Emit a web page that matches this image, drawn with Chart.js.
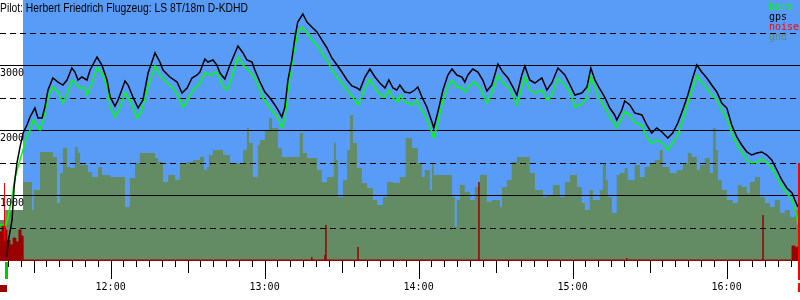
<!DOCTYPE html>
<html><head><meta charset="utf-8">
<script src="https://cdn.jsdelivr.net/npm/chart.js@4/dist/chart.umd.min.js"></script>
<style>html,body{margin:0;padding:0;background:#fff;}canvas{display:block;}</style>
</head><body>
<canvas id="c" width="800" height="300"></canvas>
<script>
// ---- data (time = minutes after 11:00, altitude in m) ----
const pilotTitle = 'Pilot: Herbert Friedrich Flugzeug: LS 8T/18m D-KDHD';
const seriesNames = ['baro', 'gps', 'noise', 'gnd'];
const timeMin = 16.9, timeMax = 328.6;
const hourTicks = [60, 120, 180, 240, 300];
const hourLabels = ['12:00', '13:00', '14:00', '15:00', '16:00'];
const altLabels = [1000, 2000, 3000];
const gridSolid = [1000, 2000, 3000];
const gridDashed = [500, 1500, 2500, 3500];
const coverStart = 25.9;
const takeoffT = 19.4, landingT = 328.2;
const noisePeakT = 18.5, noisePeak = 1185, landingTop = 1492;

const gpsT = [19.6,20.0,21.6,22.4,23.5,24.7,25.9,27.4,28.6,30.5,31.7,33.3,34.4,35.6,37.5,39.5,41.4,43.0,44.9,46.1,47.3,48.8,50.8,52.0,54.7,56.6,58.6,59.8,61.7,62.9,65.6,66.8,68.7,70.7,72.6,74.6,77.3,79.2,80.4,83.1,85.9,87.8,89.8,91.7,93.7,94.8,96.7,97.9,99.9,101.4,102.6,104.5,106.5,109.6,111.6,113.1,115.1,116.2,118.2,120.1,122.1,124.0,125.2,126.7,127.9,129.1,130.6,131.8,132.9,134.9,136.5,138.4,140.4,142.3,144.3,146.2,148.2,150.1,152.1,154.0,156.0,157.1,159.1,161.0,163.0,164.9,166.9,168.4,170.0,171.5,172.7,174.6,176.6,178.5,179.7,181.3,183.2,185.2,185.9,187.5,189.5,191.4,193.0,194.9,196.9,198.0,199.2,201.1,203.1,205.0,206.6,208.5,210.9,212.8,214.8,216.7,218.3,220.2,221.4,223.3,225.3,228.0,230.0,231.9,234.3,237.0,239.0,240.9,243.6,245.6,247.1,248.7,250.6,252.5,254.5,256.4,257.2,259.2,260.3,262.3,264.2,267.0,268.9,270.8,272.8,274.8,277.1,279.0,281.0,282.9,284.9,286.8,288.4,290.3,292.3,294.2,296.2,298.1,300.1,302.0,304.0,305.9,307.9,309.8,311.8,313.7,315.7,317.6,319.6,321.5,323.5,325.5,326.6,327.8];
const gpsAlt = [46,262,615,1123,1492,1738,1954,2077,2200,2338,2185,2185,2354,2615,2800,2738,2692,2769,2954,2892,2769,2815,2769,2923,3123,3000,2769,2508,2369,2462,2754,2692,2508,2338,2462,2877,3185,3046,2923,2815,2738,2569,2646,2800,2846,2892,3092,3046,3077,3000,2877,2785,3000,3292,3185,3077,3046,2923,2738,2585,2492,2385,2308,2200,2354,2769,3077,3415,3662,3785,3662,3585,3508,3385,3262,3108,3000,2892,2769,2677,2646,2615,2815,2938,2815,2723,2646,2769,2646,2615,2692,2585,2569,2615,2662,2508,2354,2123,2031,2277,2615,2846,2938,2846,2815,2738,2846,2938,2892,2769,2600,2692,3015,2892,2800,2662,2538,2846,2985,2769,2723,2800,2615,2723,2954,2846,2692,2538,2569,2662,2954,2769,2631,2508,2338,2231,2154,2308,2446,2385,2262,2231,2077,1954,2031,1969,1877,1954,2108,2308,2538,2800,3000,2892,2800,2692,2585,2415,2338,2077,1892,1769,1662,1615,1646,1662,1615,1538,1385,1231,1108,1031,923,815];

const baroT = [16.9,19.2,20.0,21.6,22.7,23.9,25.5,26.6,27.4,28.6,29.8,31.3,32.5,33.7,35.6,37.5,39.5,41.4,43.4,44.9,46.1,48.1,50.0,50.8,52.7,54.7,56.6,58.6,59.8,61.7,63.7,65.6,67.5,70.3,72.2,74.2,77.3,79.2,82.0,84.3,86.2,88.2,90.1,92.1,94.8,96.7,98.7,101.4,103.4,105.3,107.3,109.6,111.6,113.5,115.4,117.4,119.3,121.3,123.2,125.2,126.7,127.9,129.1,131.0,132.9,134.5,136.5,138.4,140.4,142.3,144.3,146.2,148.2,150.1,152.1,154.0,156.4,158.3,161.0,163.0,164.9,166.9,168.4,170.0,171.9,172.7,174.6,177.4,179.3,180.5,182.4,184.4,185.9,187.5,189.5,191.4,193.0,194.9,196.9,198.0,200.0,201.9,203.9,206.6,208.5,210.9,212.8,215.6,218.3,220.2,221.4,223.3,225.3,228.0,230.0,231.9,234.3,237.0,239.0,240.9,243.6,245.6,247.1,248.7,250.6,252.5,254.5,257.2,259.2,260.3,262.3,264.2,267.0,268.9,270.8,272.8,274.8,277.1,279.0,281.0,282.9,284.9,286.8,288.4,290.3,292.3,294.2,296.2,298.1,300.1,302.0,304.0,305.9,307.9,309.8,311.8,313.7,315.7,317.6,319.6,321.5,323.5,325.5,327.4,327.8];
const baroAlt = [538,538,662,969,1262,1431,1646,1800,1892,2000,2154,2077,2000,2154,2508,2662,2585,2415,2585,2769,2723,2646,2646,2538,2723,2954,2877,2662,2354,2200,2354,2569,2462,2185,2308,2615,2985,2846,2723,2646,2538,2354,2462,2615,2723,2877,2846,2892,2692,2615,2815,3123,3000,2923,2846,2692,2492,2385,2277,2185,2031,2154,2615,3108,3492,3585,3492,3385,3308,3185,3077,2923,2815,2723,2615,2523,2385,2569,2785,2646,2538,2508,2615,2492,2431,2538,2431,2385,2462,2354,2231,2046,1877,2108,2462,2662,2769,2662,2646,2585,2692,2738,2646,2415,2569,2846,2723,2631,2385,2646,2815,2615,2569,2615,2462,2538,2800,2692,2585,2354,2400,2508,2815,2646,2462,2354,2200,2031,2185,2277,2231,2108,2077,1892,1800,1846,1800,1692,1800,1923,2154,2415,2646,2831,2723,2646,2538,2462,2308,2185,1954,1769,1662,1538,1492,1508,1554,1492,1415,1277,1123,1031,923,662,538];

const gndT = [16.9,18.9,25.9,29.4,30.1,32.5,37.5,39.1,40.3,41.4,43.0,44.2,46.1,47.3,48.1,51.2,52.7,55.1,56.6,59.8,65.6,67.5,69.5,71.4,77.3,78.5,80.4,82.4,85.1,87.0,89.8,92.1,94.8,96.4,97.5,98.3,99.9,103.8,106.5,111.6,113.1,113.9,115.4,117.4,118.2,120.1,121.7,122.9,125.2,126.7,133.7,134.9,136.5,140.4,142.3,144.3,147.0,147.8,148.6,150.5,152.1,153.3,154.4,156.0,157.9,159.9,162.2,163.8,166.1,167.7,170.0,172.7,175.0,177.4,179.7,181.3,182.4,184.4,185.2,185.9,193.0,194.1,194.9,196.1,198.0,200.0,201.9,203.9,206.6,208.5,211.7,212.5,214.4,216.3,218.3,223.3,225.3,228.4,230.0,232.3,235.0,237.0,239.0,241.7,243.6,244.8,246.7,247.9,250.6,251.8,253.0,253.7,255.3,257.2,258.4,260.3,261.5,264.2,266.2,268.1,270.1,272.0,274.0,275.1,277.8,280.6,282.9,284.9,286.4,288.4,289.6,291.5,293.5,294.7,295.8,296.6,298.1,300.1,302.4,304.4,305.9,307.9,309.1,311.0,313.0,314.9,316.9,318.8,320.8,322.7,324.7,326.6,328.6];
const gndAlt = [615,769,1200,769,1077,1662,1585,877,1338,1723,1431,1415,1738,1646,1462,1354,1277,1431,1308,1277,815,1262,1492,1646,1569,1508,1200,1308,1231,1492,1508,1538,1585,1385,1431,1615,1692,1615,1492,1692,2031,1800,1277,1769,1846,2000,2185,2031,1723,1585,1954,1646,1569,1385,1200,1277,1800,1538,969,1231,1692,2231,1800,1415,1185,1108,923,846,969,1200,1185,1277,1877,1723,1492,1277,1385,1077,1492,1308,969,508,923,1154,1046,923,1123,1308,892,923,815,1123,1231,1508,1585,1338,1077,969,1000,1154,969,1200,1308,1123,877,769,1077,923,1077,1492,1231,969,723,1308,1338,1415,1231,1462,1277,1431,1492,1538,1692,1431,1338,1385,1492,1646,1585,1385,1462,1569,1338,2031,1692,1231,1077,923,877,1154,1123,1031,1200,1277,969,877,815,923,723,769,662,769,769];

const noiseT = [16.9,17.7,18.8,19.6,20.8,22.0,23.1,24.3,25.1,25.9,138.4,138.4,143.5,143.5,143.9,143.9,156.4,156.4,203.5,203.5,261.1,261.1,314.2,314.2,325.5,326.7,327.4,328.6];
const noiseVal = [431,538,462,308,231,338,277,462,369,0,46,0,77,0,538,0,200,0,1200,0,31,0,692,0,215,185,200,170];

const COL = {sky:'#589cf8', gnd:'#648c64', noise:'#9b0000', noiseHi:'#ff0000', baro:'#00ff00', gps:'#000000', start:'#00cc00'};
const zip = (xs, ys) => xs.map((x, i) => ({x: x, y: ys[i]}));

const overlay = {
  id: 'overlay',
  beforeDraw(chart) {
    const {ctx, chartArea: a, scales: {x}} = chart;
    ctx.save();
    ctx.fillStyle = '#fff';
    ctx.fillRect(0, 0, chart.width, chart.height);
    const x0 = Math.round(x.getPixelForValue(coverStart));
    ctx.fillStyle = COL.sky;
    ctx.fillRect(x0, a.top, a.right - x0, a.bottom - a.top);
    ctx.restore();
  },
  beforeDatasetDraw(chart, args) {
    if (args.index !== 1) return;
    const {ctx, scales: {y}} = chart;
    ctx.save();
    ctx.strokeStyle = '#000';
    ctx.lineWidth = 1;
    gridSolid.forEach(v => {
      const py = Math.round(y.getPixelForValue(v)) + 0.5;
      ctx.beginPath(); ctx.moveTo(0, py); ctx.lineTo(chart.width, py); ctx.stroke();
    });
    ctx.setLineDash([6, 4]);
    gridDashed.forEach(v => {
      const py = Math.round(y.getPixelForValue(v)) + 0.5;
      ctx.beginPath(); ctx.moveTo(0, py); ctx.lineTo(chart.width, py); ctx.stroke();
    });
    ctx.restore();
  },
  afterDraw(chart) {
    const {ctx, chartArea: a, scales: {x, y}} = chart;
    ctx.save();
    // markers
    ctx.fillStyle = COL.noiseHi;
    const pk = Math.round(x.getPixelForValue(noisePeakT));
    const pkTop = Math.round(y.getPixelForValue(noisePeak));
    ctx.fillRect(pk, pkTop, 1, Math.round(y.getPixelForValue(300)) - pkTop);
    const ld = Math.round(x.getPixelForValue(landingT));
    const ldTop = Math.round(y.getPixelForValue(landingTop));
    ctx.fillRect(ld - 1, ldTop, 2, a.bottom + 20 - ldTop);
    ctx.fillRect(ld - 1, a.bottom + 23, 2, 9);
    ctx.fillStyle = COL.start;
    const to = Math.round(x.getPixelForValue(takeoffT));
    ctx.fillRect(to - 1, a.bottom + 2, 3, 17);
    ctx.fillStyle = COL.noise;
    ctx.fillRect(0, a.bottom + 25, 7, 7);
    // tick marks
    ctx.strokeStyle = '#000';
    ctx.lineWidth = 1;
    for (let t = Math.ceil(timeMin / 5) * 5; t <= timeMax; t += 5) {
      const px = Math.round(x.getPixelForValue(t)) + 0.5;
      const len = t % 60 === 0 ? 18 : (t % 30 === 0 ? 12 : 6);
      ctx.beginPath(); ctx.moveTo(px, a.bottom + 1); ctx.lineTo(px, a.bottom + 1 + len); ctx.stroke();
    }
    // altitude labels
    ctx.fillStyle = '#000';
    ctx.font = '10px "DejaVu Sans Mono", monospace';
    ctx.textBaseline = 'alphabetic';
    ctx.textAlign = 'left';
    altLabels.forEach(v => {
      ctx.fillText(String(v), 0, Math.round(y.getPixelForValue(v)) + 11);
    });
    // title (narrow face: compress horizontally to the reference width)
    ctx.font = '12.5px "Liberation Sans", Arial, sans-serif';
    const tw = ctx.measureText(pilotTitle).width;
    ctx.save();
    ctx.scale(248 / tw, 1);
    ctx.fillText(pilotTitle, 0, 12);
    ctx.restore();
    // legend
    ctx.font = '10px "DejaVu Sans Mono", monospace';
    const legCols = [COL.baro, COL.gps, COL.noiseHi, COL.gnd];
    seriesNames.forEach((n, i) => {
      ctx.fillStyle = legCols[i];
      ctx.fillText(n, 769, 10 + i * 10);
    });
    ctx.restore();
  }
};

new Chart(document.getElementById('c'), {
  type: 'line',
  data: {
    datasets: [
      {label: 'gps', data: zip(gpsT, gpsAlt), borderColor: COL.gps, borderWidth: 1.5, pointRadius: 0, fill: false, tension: 0},
      {label: 'baro', data: zip(baroT, baroAlt), borderColor: COL.baro, borderWidth: 1.5, pointRadius: 0, fill: false, tension: 0},
      {label: 'noise', data: zip(noiseT, noiseVal), borderColor: COL.noise, backgroundColor: COL.noise, borderWidth: 1, stepped: true, fill: 'origin', pointRadius: 0},
      {label: 'gnd', data: zip(gndT, gndAlt), borderColor: 'rgba(0,0,0,0)', backgroundColor: COL.gnd, borderWidth: 0, stepped: true, fill: 'origin', pointRadius: 0}
    ]
  },
  options: {
    responsive: false,
    animation: false,
    devicePixelRatio: 1,
    layout: {padding: 0},
    plugins: {legend: {display: false}, tooltip: {enabled: false}, title: {display: false}},
    scales: {
      x: {
        type: 'linear', min: timeMin, max: timeMax,
        afterBuildTicks: s => { s.ticks = hourTicks.map(v => ({value: v})); },
        afterFit: s => { s.height = 40; },
        grid: {display: false, drawTicks: false},
        border: {display: true, color: COL.noise, width: 1},
        ticks: {
          autoSkip: false, maxRotation: 0, minRotation: 0, padding: 21, color: '#000',
          font: {family: 'DejaVu Sans Mono', size: 10},
          callback: v => hourLabels[hourTicks.indexOf(v)]
        }
      },
      y: {display: false, min: 0, max: 4000}
    }
  },
  plugins: [overlay]
});
</script>
</body></html>
